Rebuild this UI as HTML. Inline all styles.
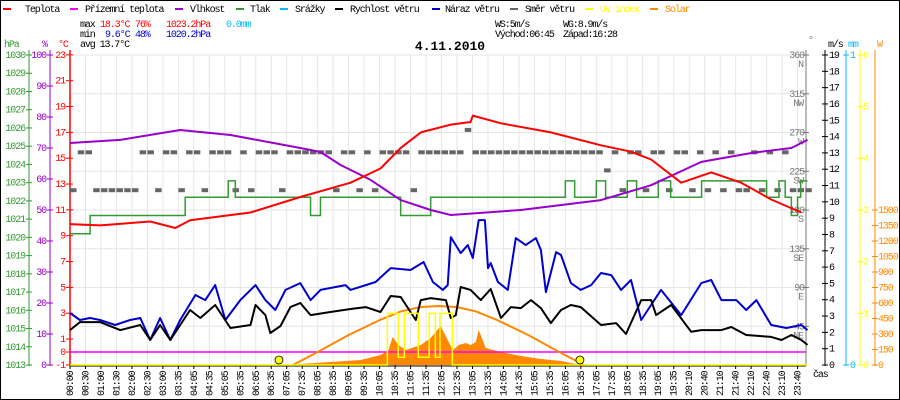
<!DOCTYPE html>
<html><head><meta charset="utf-8"><style>
html,body{margin:0;padding:0;background:#fff}
svg{display:block}
text{font-family:"Liberation Mono",monospace;font-size:10px;letter-spacing:-1.1px}
</style></head><body>
<svg id="chart" width="900" height="400" viewBox="0 0 900 400" xmlns="http://www.w3.org/2000/svg">
<rect x="0.5" y="0.5" width="899" height="399" fill="#fff" stroke="#000"/>
<g id="grid"></g>
<g id="legend">
 <g><rect x="3" y="8" width="8" height="2" fill="#f00"/><text x="25" y="12">Teplota</text></g>
 <g><rect x="70" y="8" width="8" height="2" fill="#f0f"/><text x="85" y="12">Přízemní teplota</text></g>
 <g><rect x="175" y="8" width="8" height="2" fill="#90c"/><text x="190" y="12">Vlhkost</text></g>
 <g><rect x="236" y="8" width="8" height="2" fill="#393"/><text x="250" y="12">Tlak</text></g>
 <g><rect x="280" y="8" width="8" height="2" fill="#0bf"/><text x="295" y="12">Srážky</text></g>
 <g><rect x="335" y="8" width="8" height="2" fill="#000"/><text x="350" y="12">Rychlost větru</text></g>
 <g><rect x="432" y="8" width="8" height="2" fill="#00c"/><text x="445" y="12">Náraz větru</text></g>
 <g><rect x="510" y="8" width="8" height="2" fill="#666"/><text x="525" y="12">Směr větru</text></g>
 <g><rect x="585" y="8" width="8" height="2" fill="#ff0"/><text x="600" y="12" fill="#ff0">UV index</text></g>
 <g><rect x="650" y="8" width="8" height="2" fill="#f80"/><text x="665" y="12" fill="#f80">Solar</text></g>
</g>
<g id="stats">
 <text x="80" y="27">max</text><text x="100" y="27" fill="#f00">18.3°C</text><text x="135" y="27" fill="#f00">76%</text><text x="166" y="27" fill="#f00">1023.2hPa</text><text x="226" y="27" fill="#0bf">0.0mm</text>
 <text x="80" y="37">min</text><text x="105" y="37" fill="#00c">9.6°C</text><text x="135" y="37" fill="#00c">48%</text><text x="166" y="37" fill="#00c">1020.2hPa</text>
 <text x="80" y="47">avg 13.7°C</text>
 <text x="495" y="27">WS:5m/s</text><text x="563" y="27">WG:8.9m/s</text>
 <text x="495" y="37">Východ:06:45</text><text x="563" y="37">Západ:16:28</text>
</g>
<text x="450" y="50" text-anchor="middle" style="font-size:13px;font-weight:bold;letter-spacing:0">4.11.2010</text>
<g id="axes"></g>
<g id="series"></g>
</svg>
<script>
// ---- data ----
const xLabels=["00:00","00:30","01:00","01:30","02:00","02:30","03:00","03:35","04:05","04:35","05:05","05:35","06:05","06:35","07:05","07:35","08:05","08:35","09:05","09:35","10:05","10:35","11:05","11:35","12:05","12:35","13:05","13:35","14:05","14:35","15:05","15:35","16:05","16:35","17:05","17:35","18:05","18:35","19:05","19:35","20:10","20:40","21:10","21:40","22:10","22:40","23:10","23:40"];
const tempTimes=[0,0.97,2.59,3.4,3.88,5.83,7.44,9.06,10.03,10.68,11.33,12.3,12.94,13.01,13.92,15.53,17.15,18.12,18.77,19.74,20.71,21.68,22.65,23.62];
const tempVals=[9.9,9.8,10.1,9.6,10.2,10.8,12.0,13.1,14.2,15.8,17.0,17.6,17.8,18.3,17.7,17.0,16.0,15.5,14.9,13.1,13.9,13.1,11.8,10.8];
const humTimes=[0,1.62,3.56,5.18,7.44,8.09,8.74,9.71,10.68,11.65,12.3,14.56,17.15,18.77,20.39,22.01,23.30,23.82];
const humVals=[71.6,72.6,75.8,74.2,70,68.7,64.5,59.7,53.2,50,48.4,50,53.2,58,65.5,68.4,70,72.6];
const presTimes=[0,0.65,3.72,5.11,5.34,7.77,8.09,10.68,11.65,16.0,16.3,17.0,17.3,18.0,18.3,19.0,19.4,20.4,22.5,22.9,23.1,23.3,23.5,23.6];
const presVals=[1020.2,1021.2,1022.2,1023.1,1022.2,1021.2,1022.2,1021.2,1022.2,1023.1,1022.2,1023.1,1022.2,1023.1,1022.2,1023.1,1022.2,1023.1,1022.2,1023.1,1022.2,1021.2,1022.2,1023.1];
const windTimes=[0,0.32,0.97,1.62,2.27,2.59,2.91,3.24,3.88,4.21,4.69,5.18,5.83,5.99,6.31,6.47,6.80,7.12,7.44,7.77,8.41,9.06,9.55,10.03,10.36,10.68,11.17,11.33,11.65,12.14,12.30,12.46,12.62,12.94,13.27,13.59,13.92,14.24,14.56,14.89,15.21,15.53,15.86,16.18,16.50,17.15,17.64,17.96,18.45,18.77,18.93,19.42,20.06,20.39,21.04,21.36,21.84,22.65,22.98,23.30,23.62,23.82];
const windVals=[2.14,2.63,2.63,2.14,2.45,1.53,2.45,1.53,3.37,2.88,3.68,2.27,2.45,3.68,3.06,1.96,2.39,3.55,3.8,3.06,3.25,3.43,3.55,3.25,4.23,4.17,2.76,3.98,4.1,3.98,2.88,3.06,4.78,4.6,3.98,4.66,2.88,3.55,3.49,3.98,3.49,2.57,3.37,3.68,3.55,2.45,2.57,1.9,3.98,3.98,3.06,3.68,2.04,2.14,2.14,2.33,1.84,1.72,1.53,1.84,1.53,1.23];
const gustTimes=[0,0.32,0.65,0.97,1.46,1.94,2.27,2.59,2.91,3.24,3.56,4.05,4.37,4.69,5.02,5.50,5.99,6.31,6.63,6.96,7.44,7.77,8.09,8.90,9.06,9.87,10.36,11.0,11.42,11.72,12.04,12.20,12.30,12.62,12.85,13.01,13.20,13.40,13.50,13.59,13.82,14.14,14.40,14.72,15.05,15.21,15.37,15.70,15.86,16.18,16.50,16.83,17.15,17.48,17.80,18.12,18.45,18.77,19.09,19.74,20.39,20.71,21.04,21.52,21.84,22.17,22.65,23.14,23.62,23.82];
const gustVals=[3.19,2.76,2.88,2.76,2.45,2.76,2.88,1.53,2.88,1.53,2.76,4.29,3.98,4.9,2.76,3.98,4.9,3.98,3.37,4.6,5.02,3.98,4.6,4.9,4.6,5.09,5.94,5.82,6.31,5.09,4.6,4.9,7.84,6.86,7.35,6.56,8.88,8.88,5.94,6.25,5.09,4.6,7.78,7.35,7.78,7.05,4.47,6.92,6.74,5.02,4.6,4.9,5.64,5.51,4.6,5.21,2.76,3.68,4.6,3.06,5.02,5.21,3.98,3.98,3.37,3.98,2.45,2.27,2.45,2.14];
const dirVals=[203,247,247,203,203,203,203,203,203,247,247,203,247,247,203,247,247,203,247,247,247,203,247,203,247,247,247,203,247,247,247,247,247,247,203,247,247,203,247,203,247,247,247,247,203,247,247,247,247,247,247,273,247,247,247,247,247,247,247,247,247,247,247,247,247,247,247,247,247,226,247,203,247,247,203,247,247,203,247,247,203,247,203,247,203,247,203,203,247,203,247,203,247,203,203,203];
const solarTimes=[7.1,7.44,8.41,9.39,10.03,10.29,10.42,10.61,10.84,11.33,11.65,11.97,12.2,12.36,12.56,12.78,12.94,13.11,13.2,13.43,13.92,14.56,15.21,15.86,16.34,16.5];
const solarVals=[0,10,29,48,97,145,271,194,145,194,261,378,242,145,194,213,194,223,339,165,126,87,58,39,10,0];
const theoTimes=[7.2,8.0,9.0,10.0,10.7,11.3,11.9,12.5,13.1,13.8,14.8,15.8,16.6];
const theoVals=[0,126,290,435,520,560,571,560,520,435,290,126,0];
const uvTimes=[0,10.25,10.6,10.8,11.25,11.6,11.8,11.95,12.35,23.82];
const uvVals=[0,1,0.15,1,0.15,1,0.15,1,0,0];
const sunTimes=[6.75,16.47];
// ---- scales ----
const X0=70,X1=806,Y0=55,Y1=365;
const xs=h=>X0+h*30.96;
const yT=t=>352-t*12.92;
const yH=v=>Y1-v*3.1;
const yP=p=>Y1-(p-1013)*18.235;
const yW=w=>Y1-w*16.316;
const yD=d=>Y1-d*0.8611;
const ySol=w=>Y1-w*0.10333;
const yUV=u=>Y1-u*51.667;
const NS="http://www.w3.org/2000/svg";
function mk(tag,attrs,parent){const e=document.createElementNS(NS,tag);for(const k in attrs)e.setAttribute(k,attrs[k]);parent.appendChild(e);return e;}
function txt(x,y,s,fill,anchor,parent){const e=mk('text',{x:x,y:y,fill:fill||'#000','text-anchor':anchor||'start'},parent);e.textContent=s;return e;}
const grid=document.getElementById('grid'),axes=document.getElementById('axes'),ser=document.getElementById('series');
for(let i=0;i<xLabels.length;i++){const x=X0+i*15.48;
 const l=mk('line',{x1:x,x2:x,y1:Y0,y2:Y1,stroke:'#e6e6e6'},grid);
 
 
 mk('line',{x1:x,x2:x,y1:Y1,y2:Y1+4,stroke:'#000'},axes);
 const t=txt(0,0,xLabels[i],'#000','start',axes);
 t.setAttribute('transform','translate('+(x+3)+',396) rotate(-90)');
 
 
}
for(let k=0;k<=8;k++){const y=Y0+k*38.75;
 const l=mk('line',{x1:X0,x2:X1,y1:y,y2:y,stroke:'#e6e6e6'},grid);
 
 
}
mk('line',{x1:29,x2:29,y1:50,y2:366,stroke:'#393'},axes);
mk('line',{x1:50,x2:50,y1:50,y2:366,stroke:'#90c'},axes);
mk('line',{x1:70,x2:70,y1:50,y2:366,stroke:'#f00','stroke-width':1.5},axes);
txt(4,47,'hPa','#393','start',axes);txt(42,47,'%','#90c','start',axes);txt(58,47,'°C','#f00','start',axes);
for(let p=1013;p<=1030;p++){const y=yP(p);mk('line',{x1:26,x2:32,y1:y,y2:y,stroke:'#393'},axes);txt(25,y+3,String(p),'#393','end',axes);}
for(let v=0;v<=100;v+=10){const y=yH(v);mk('line',{x1:47,x2:53,y1:y,y2:y,stroke:'#90c'},axes);txt(46,y+3,String(v),'#90c','end',axes);}
const tLabels=[23,21,19,17,15,13,11,9,7,5,3,1,0,-1];
tLabels.forEach(t=>{const y=yT(t);mk('line',{x1:66,x2:73,y1:y,y2:y,stroke:'#f00'},axes);txt(65,y+3,String(t),'#f00','end',axes);});
mk('line',{x1:806,x2:806,y1:50,y2:366,stroke:'#777'},axes);
mk('line',{x1:825,x2:825,y1:50,y2:366,stroke:'#000'},axes);
mk('line',{x1:846,x2:846,y1:50,y2:366,stroke:'#0bf'},axes);
mk('line',{x1:860,x2:860,y1:50,y2:366,stroke:'#ff0'},axes);
mk('line',{x1:875,x2:875,y1:50,y2:366,stroke:'#f80'},axes);
txt(808,43,'°','#777','start',axes);txt(828,47,'m/s','#000','start',axes);txt(848,47,'mm','#0bf','start',axes);txt(877,47,'W','#f80','start',axes);
const dirNames=['','NE','E','SE','S','SW','W','NW','N'];
for(let k=1;k<=8;k++){const d=k*45,y=yD(d);mk('line',{x1:803,x2:809,y1:y,y2:y,stroke:'#777'},axes);txt(804,y+3,String(d),'#777','end',axes);txt(803,y+12,dirNames[k],'#777','end',axes);}
for(let w=0;w<=19;w++){const y=yW(w);mk('line',{x1:822,x2:828,y1:y,y2:y,stroke:'#000'},axes);txt(829,y+3,String(w),'#000','start',axes);}
[0,1].forEach(m=>{const y=Y1-m*310;mk('line',{x1:843,x2:849,y1:y,y2:y,stroke:'#0bf'},axes);txt(850,y+3,String(m),'#0bf','start',axes);});
for(let u=0;u<=6;u++){const y=yUV(u);mk('line',{x1:857,x2:863,y1:y,y2:y,stroke:'#ff0'},axes);txt(863,y+3,String(u),'#ff0','start',axes);}
for(let w=0;w<=1500;w+=150){const y=ySol(w);mk('line',{x1:872,x2:878,y1:y,y2:y,stroke:'#f80'},axes);txt(878,y+3,String(w),'#f80','start',axes);}
txt(813,377,'čas','#000','start',axes);
function line(ts,vs,ys,color,w,name){let d='';ts.forEach((t,i)=>{d+=(i?'L':'M')+xs(t).toFixed(1)+','+ys(vs[i]).toFixed(1);});
 const p=mk('path',{d:d,fill:'none',stroke:color,'stroke-width':w,'stroke-linejoin':'round'},ser);
 
 return p;}
function step(ts,vs,ys,color,w,name,endT){let d='';ts.forEach((t,i)=>{const x=xs(t),y=ys(vs[i]);if(i===0)d+='M'+x+','+y;else d+='H'+x+'V'+y;});d+='H'+xs(endT);
 const p=mk('path',{d:d,fill:'none',stroke:color,'stroke-width':w},ser);
 
 return p;}
{let d='M'+xs(solarTimes[0])+','+Y1;solarTimes.forEach((t,i)=>{d+='L'+xs(t).toFixed(1)+','+ySol(solarVals[i]).toFixed(1);});d+='L'+xs(solarTimes[solarTimes.length-1])+','+Y1+'Z';
 const p=mk('path',{d:d,fill:'#f80'},ser);
 
 }
{const l=mk('line',{x1:X0,x2:X1,y1:yT(0),y2:yT(0),stroke:'#f0f','stroke-width':1.5},ser);
 
 }
line(theoTimes,theoVals,ySol,'#f80',2,'theoretical-solar-line');
dirVals.forEach((d,i)=>{if(d==null)return;const r=mk('rect',{x:xs(i/4),y:yD(d)-2,width:6.5,height:4,fill:'#666'},ser);
 
 });
step(presTimes,presVals,yP,'#393',1.5,'pressure-line',23.82);
line(humTimes,humVals,yH,'#90c',2,'humidity-line');
line(tempTimes,tempVals,yT,'#f00',2,'temperature-line');
line(gustTimes,gustVals,yW,'#00c',2,'wind-gust-line');
line(windTimes,windVals,yW,'#000',2,'wind-speed-line');
mk('line',{x1:X0,x2:X1,y1:Y1+1,y2:Y1+1,stroke:'#000'},ser);
step(uvTimes,uvVals,yUV,'#ff0',1.5,'uv-index-line',23.82);
sunTimes.forEach(t=>{const c=mk('circle',{cx:xs(t),cy:360,r:4,fill:'#ff0',stroke:'#000','stroke-width':0.8},ser);
 
 });
</script>
</body></html>
